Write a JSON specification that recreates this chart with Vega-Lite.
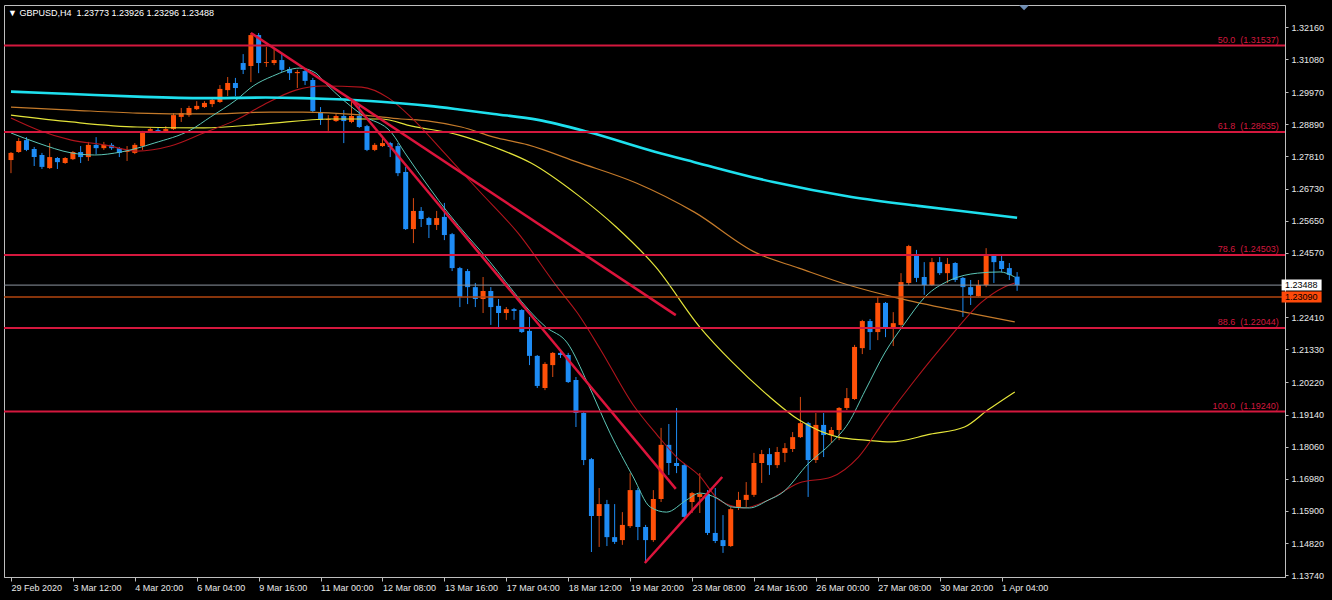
{
"$schema": "https://vega.github.io/schema/vega-lite/v6.json",
"width": 1281, "height": 572,
"autosize": {"type": "none"},
"padding": {"left": 4, "top": 5, "right": 47, "bottom": 23},
"background": "#000000",
"title": {"text": "▼ GBPUSD,H4\u00a0 1.23773 1.23926 1.23296 1.23488", "anchor": "start", "frame": "group", "orient": "top", "baseline": "top", "offset": 0, "dx": 4, "dy": 13, "font": "Liberation Sans", "fontSize": 9, "fontWeight": "normal", "color": "#FFFFFF"},
"config": {"view": {"stroke": "#BEBEBE", "strokeWidth": 1, "fill": "#000000"}, "font": "Liberation Sans"},
"resolve": {"axis": {"x": "independent", "y": "independent"}},
"datasets": {
"candles": [
{"i":0,"o":1.2769,"h":1.2796,"l":1.2725,"c":1.2793},
{"i":1,"o":1.2796,"h":1.2843,"l":1.2793,"c":1.2833},
{"i":2,"o":1.2836,"h":1.2846,"l":1.2799,"c":1.2803},
{"i":3,"o":1.2806,"h":1.2813,"l":1.2749,"c":1.2779},
{"i":4,"o":1.2786,"h":1.2793,"l":1.2739,"c":1.2746},
{"i":5,"o":1.2742,"h":1.2826,"l":1.2739,"c":1.2779},
{"i":6,"o":1.2776,"h":1.2779,"l":1.2739,"c":1.2762},
{"i":7,"o":1.2759,"h":1.2779,"l":1.2756,"c":1.2776},
{"i":8,"o":1.2772,"h":1.2799,"l":1.2769,"c":1.2796},
{"i":9,"o":1.2796,"h":1.2816,"l":1.2759,"c":1.2779},
{"i":10,"o":1.2779,"h":1.2830,"l":1.2766,"c":1.2820},
{"i":11,"o":1.2820,"h":1.2846,"l":1.2789,"c":1.2809},
{"i":12,"o":1.2809,"h":1.2830,"l":1.2803,"c":1.2820},
{"i":13,"o":1.2820,"h":1.2826,"l":1.2803,"c":1.2809},
{"i":14,"o":1.2809,"h":1.2813,"l":1.2779,"c":1.2793},
{"i":15,"o":1.2796,"h":1.2816,"l":1.2766,"c":1.2799},
{"i":16,"o":1.2793,"h":1.2826,"l":1.2789,"c":1.2820},
{"i":17,"o":1.2816,"h":1.2867,"l":1.2803,"c":1.2863},
{"i":18,"o":1.2867,"h":1.2877,"l":1.2863,"c":1.2873},
{"i":19,"o":1.2870,"h":1.2877,"l":1.2860,"c":1.2867},
{"i":20,"o":1.2867,"h":1.2883,"l":1.2863,"c":1.2873},
{"i":21,"o":1.2873,"h":1.2927,"l":1.2870,"c":1.2920},
{"i":22,"o":1.2914,"h":1.2944,"l":1.2897,"c":1.2927},
{"i":23,"o":1.2920,"h":1.2951,"l":1.2914,"c":1.2944},
{"i":24,"o":1.2940,"h":1.2967,"l":1.2937,"c":1.2951},
{"i":25,"o":1.2947,"h":1.2967,"l":1.2944,"c":1.2961},
{"i":26,"o":1.2957,"h":1.2977,"l":1.2947,"c":1.2971},
{"i":27,"o":1.2964,"h":1.3021,"l":1.2961,"c":1.3008},
{"i":28,"o":1.3004,"h":1.3048,"l":1.2984,"c":1.3028},
{"i":29,"o":1.3028,"h":1.3045,"l":1.2984,"c":1.3011},
{"i":30,"o":1.3095,"h":1.3125,"l":1.3058,"c":1.3072},
{"i":31,"o":1.3085,"h":1.3196,"l":1.3031,"c":1.3189},
{"i":32,"o":1.3189,"h":1.3196,"l":1.3061,"c":1.3095},
{"i":33,"o":1.3095,"h":1.3149,"l":1.3082,"c":1.3098},
{"i":34,"o":1.3095,"h":1.3145,"l":1.3088,"c":1.3105},
{"i":35,"o":1.3105,"h":1.3129,"l":1.3065,"c":1.3072},
{"i":36,"o":1.3075,"h":1.3082,"l":1.3038,"c":1.3061},
{"i":37,"o":1.3061,"h":1.3072,"l":1.3011,"c":1.3065},
{"i":38,"o":1.3068,"h":1.3078,"l":1.3021,"c":1.3035},
{"i":39,"o":1.3038,"h":1.3045,"l":1.2927,"c":1.2934},
{"i":40,"o":1.2930,"h":1.2947,"l":1.2887,"c":1.2904},
{"i":41,"o":1.2904,"h":1.2920,"l":1.2867,"c":1.2907},
{"i":42,"o":1.2900,"h":1.2924,"l":1.2897,"c":1.2917},
{"i":43,"o":1.2917,"h":1.2937,"l":1.2826,"c":1.2900},
{"i":44,"o":1.2897,"h":1.2971,"l":1.2893,"c":1.2917},
{"i":45,"o":1.2917,"h":1.2951,"l":1.2877,"c":1.2880},
{"i":46,"o":1.2883,"h":1.2887,"l":1.2799,"c":1.2803},
{"i":47,"o":1.2803,"h":1.2826,"l":1.2799,"c":1.2820},
{"i":48,"o":1.2816,"h":1.2846,"l":1.2813,"c":1.2826},
{"i":49,"o":1.2826,"h":1.2830,"l":1.2779,"c":1.2813},
{"i":50,"o":1.2816,"h":1.2826,"l":1.2715,"c":1.2725},
{"i":51,"o":1.2729,"h":1.2746,"l":1.2534,"c":1.2537},
{"i":52,"o":1.2537,"h":1.2641,"l":1.2490,"c":1.2598},
{"i":53,"o":1.2598,"h":1.2611,"l":1.2544,"c":1.2571},
{"i":54,"o":1.2574,"h":1.2578,"l":1.2507,"c":1.2551},
{"i":55,"o":1.2551,"h":1.2598,"l":1.2534,"c":1.2574},
{"i":56,"o":1.2578,"h":1.2625,"l":1.2500,"c":1.2517},
{"i":57,"o":1.2520,"h":1.2524,"l":1.2396,"c":1.2406},
{"i":58,"o":1.2406,"h":1.2410,"l":1.2275,"c":1.2309},
{"i":59,"o":1.2396,"h":1.2403,"l":1.2285,"c":1.2342},
{"i":60,"o":1.2342,"h":1.2356,"l":1.2275,"c":1.2302},
{"i":61,"o":1.2302,"h":1.2376,"l":1.2255,"c":1.2329},
{"i":62,"o":1.2329,"h":1.2342,"l":1.2215,"c":1.2275},
{"i":63,"o":1.2279,"h":1.2302,"l":1.2205,"c":1.2255},
{"i":64,"o":1.2255,"h":1.2275,"l":1.2232,"c":1.2268},
{"i":65,"o":1.2268,"h":1.2272,"l":1.2232,"c":1.2262},
{"i":66,"o":1.2265,"h":1.2268,"l":1.2188,"c":1.2191},
{"i":67,"o":1.2195,"h":1.2242,"l":1.2080,"c":1.2111},
{"i":68,"o":1.2111,"h":1.2114,"l":1.2003,"c":1.2010},
{"i":69,"o":1.2003,"h":1.2090,"l":1.1996,"c":1.2084},
{"i":70,"o":1.2080,"h":1.2124,"l":1.2040,"c":1.2121},
{"i":71,"o":1.2121,"h":1.2134,"l":1.2104,"c":1.2114},
{"i":72,"o":1.2114,"h":1.2121,"l":1.2020,"c":1.2023},
{"i":73,"o":1.2030,"h":1.2040,"l":1.1872,"c":1.1919},
{"i":74,"o":1.1919,"h":1.1922,"l":1.1744,"c":1.1761},
{"i":75,"o":1.1764,"h":1.1768,"l":1.1452,"c":1.1573},
{"i":76,"o":1.1573,"h":1.1667,"l":1.1469,"c":1.1613},
{"i":77,"o":1.1613,"h":1.1627,"l":1.1472,"c":1.1502},
{"i":78,"o":1.1502,"h":1.1613,"l":1.1479,"c":1.1486},
{"i":79,"o":1.1492,"h":1.1586,"l":1.1476,"c":1.1543},
{"i":80,"o":1.1539,"h":1.1717,"l":1.1533,"c":1.1660},
{"i":81,"o":1.1660,"h":1.1667,"l":1.1492,"c":1.1536},
{"i":82,"o":1.1536,"h":1.1543,"l":1.1415,"c":1.1492},
{"i":83,"o":1.1492,"h":1.1660,"l":1.1486,"c":1.1630},
{"i":84,"o":1.1630,"h":1.1869,"l":1.1620,"c":1.1812},
{"i":85,"o":1.1812,"h":1.1882,"l":1.1711,"c":1.1751},
{"i":86,"o":1.1751,"h":1.1936,"l":1.1717,"c":1.1741},
{"i":87,"o":1.1744,"h":1.1751,"l":1.1566,"c":1.1570},
{"i":88,"o":1.1620,"h":1.1654,"l":1.1583,"c":1.1650},
{"i":89,"o":1.1637,"h":1.1717,"l":1.1583,"c":1.1647},
{"i":90,"o":1.1647,"h":1.1660,"l":1.1509,"c":1.1516},
{"i":91,"o":1.1516,"h":1.1667,"l":1.1482,"c":1.1489},
{"i":92,"o":1.1492,"h":1.1576,"l":1.1449,"c":1.1472},
{"i":93,"o":1.1472,"h":1.1603,"l":1.1469,"c":1.1596},
{"i":94,"o":1.1600,"h":1.1654,"l":1.1593,"c":1.1627},
{"i":95,"o":1.1627,"h":1.1687,"l":1.1603,"c":1.1644},
{"i":96,"o":1.1644,"h":1.1785,"l":1.1637,"c":1.1751},
{"i":97,"o":1.1751,"h":1.1795,"l":1.1684,"c":1.1781},
{"i":98,"o":1.1781,"h":1.1801,"l":1.1711,"c":1.1744},
{"i":99,"o":1.1744,"h":1.1805,"l":1.1734,"c":1.1788},
{"i":100,"o":1.1785,"h":1.1818,"l":1.1754,"c":1.1801},
{"i":101,"o":1.1798,"h":1.1855,"l":1.1788,"c":1.1838},
{"i":102,"o":1.1838,"h":1.1973,"l":1.1835,"c":1.1885},
{"i":103,"o":1.1885,"h":1.1889,"l":1.1637,"c":1.1761},
{"i":104,"o":1.1761,"h":1.1919,"l":1.1751,"c":1.1879},
{"i":105,"o":1.1879,"h":1.1919,"l":1.1771,"c":1.1845},
{"i":106,"o":1.1845,"h":1.1872,"l":1.1818,"c":1.1862},
{"i":107,"o":1.1862,"h":1.1939,"l":1.1828,"c":1.1936},
{"i":108,"o":1.1936,"h":1.2003,"l":1.1929,"c":1.1969},
{"i":109,"o":1.1966,"h":1.2148,"l":1.1963,"c":1.2141},
{"i":110,"o":1.2137,"h":1.2232,"l":1.2117,"c":1.2228},
{"i":111,"o":1.2228,"h":1.2235,"l":1.2131,"c":1.2191},
{"i":112,"o":1.2191,"h":1.2309,"l":1.2164,"c":1.2289},
{"i":113,"o":1.2289,"h":1.2292,"l":1.2174,"c":1.2208},
{"i":114,"o":1.2208,"h":1.2258,"l":1.2144,"c":1.2221},
{"i":115,"o":1.2215,"h":1.2389,"l":1.2208,"c":1.2359},
{"i":116,"o":1.2356,"h":1.2484,"l":1.2349,"c":1.2480},
{"i":117,"o":1.2450,"h":1.2467,"l":1.2359,"c":1.2373},
{"i":118,"o":1.2376,"h":1.2426,"l":1.2316,"c":1.2349},
{"i":119,"o":1.2349,"h":1.2440,"l":1.2346,"c":1.2426},
{"i":120,"o":1.2426,"h":1.2443,"l":1.2383,"c":1.2389},
{"i":121,"o":1.2389,"h":1.2440,"l":1.2356,"c":1.2420},
{"i":122,"o":1.2423,"h":1.2426,"l":1.2359,"c":1.2366},
{"i":123,"o":1.2373,"h":1.2376,"l":1.2242,"c":1.2342},
{"i":124,"o":1.2342,"h":1.2366,"l":1.2282,"c":1.2316},
{"i":125,"o":1.2312,"h":1.2366,"l":1.2309,"c":1.2349},
{"i":126,"o":1.2349,"h":1.2473,"l":1.2342,"c":1.2450},
{"i":127,"o":1.2450,"h":1.2453,"l":1.2356,"c":1.2426},
{"i":128,"o":1.2430,"h":1.2450,"l":1.2393,"c":1.2403},
{"i":129,"o":1.2406,"h":1.2423,"l":1.2366,"c":1.2383},
{"i":130,"o":1.23773,"h":1.23926,"l":1.23296,"c":1.23488}
],
"ma": [
{"m":"cyan","i":0,"p":1.2999},{"m":"cyan","i":7.8,"p":1.2991},{"m":"cyan","i":16.3,"p":1.2982},{"m":"cyan","i":24.9,"p":1.2977},{"m":"cyan","i":32.9,"p":1.2979},{"m":"cyan","i":37.7,"p":1.2977},{"m":"cyan","i":41.2,"p":1.2974},{"m":"cyan","i":47.8,"p":1.2965},{"m":"cyan","i":54,"p":1.2951},{"m":"cyan","i":57.9,"p":1.2939},{"m":"cyan","i":62.4,"p":1.2924},{"m":"cyan","i":68.1,"p":1.2904},{"m":"cyan","i":74.6,"p":1.2863},{"m":"cyan","i":83.3,"p":1.2796},{"m":"cyan","i":88.3,"p":1.2762},{"m":"cyan","i":98.5,"p":1.2695},{"m":"cyan","i":108.6,"p":1.2645},{"m":"cyan","i":117.2,"p":1.2615},{"m":"cyan","i":124.9,"p":1.2591},{"m":"cyan","i":130,"p":1.2575},
{"m":"orange","i":0,"p":1.2947},{"m":"orange","i":7.8,"p":1.2937},{"m":"orange","i":16.3,"p":1.2927},{"m":"orange","i":24.9,"p":1.2924},{"m":"orange","i":33.5,"p":1.2930},{"m":"orange","i":37.7,"p":1.2930},{"m":"orange","i":45.4,"p":1.2920},{"m":"orange","i":50.4,"p":1.2907},{"m":"orange","i":54,"p":1.2900},{"m":"orange","i":58.2,"p":1.2880},{"m":"orange","i":62.4,"p":1.2846},{"m":"orange","i":66.8,"p":1.2820},{"m":"orange","i":73.2,"p":1.2762},{"m":"orange","i":80.8,"p":1.2692},{"m":"orange","i":88.3,"p":1.2594},{"m":"orange","i":96.3,"p":1.2457},{"m":"orange","i":101.8,"p":1.2406},{"m":"orange","i":108.2,"p":1.2349},{"m":"orange","i":114.6,"p":1.2305},{"m":"orange","i":123.2,"p":1.2258},{"m":"orange","i":129.7,"p":1.2225},
{"m":"yellow","i":0,"p":1.2920},{"m":"yellow","i":7.8,"p":1.2897},{"m":"yellow","i":16.3,"p":1.2880},{"m":"yellow","i":24.9,"p":1.2877},{"m":"yellow","i":32.6,"p":1.2890},{"m":"yellow","i":41.2,"p":1.2907},{"m":"yellow","i":47.8,"p":1.2907},{"m":"yellow","i":51.8,"p":1.2883},{"m":"yellow","i":57.9,"p":1.2853},{"m":"yellow","i":62.4,"p":1.2813},{"m":"yellow","i":67.2,"p":1.2759},{"m":"yellow","i":73.2,"p":1.2652},{"m":"yellow","i":78.2,"p":1.2544},{"m":"yellow","i":83.3,"p":1.2410},{"m":"yellow","i":89,"p":1.2208},{"m":"yellow","i":93.2,"p":1.2090},{"m":"yellow","i":97.9,"p":1.1976},{"m":"yellow","i":101.8,"p":1.1896},{"m":"yellow","i":106.9,"p":1.1838},{"m":"yellow","i":110.4,"p":1.1828},{"m":"yellow","i":113.7,"p":1.1822},{"m":"yellow","i":118.8,"p":1.1848},{"m":"yellow","i":123.2,"p":1.1872},{"m":"yellow","i":126.2,"p":1.1929},{"m":"yellow","i":129.7,"p":1.1990},
{"m":"red","i":0,"p":1.2910},{"m":"red","i":3.5,"p":1.2870},{"m":"red","i":7.8,"p":1.2836},{"m":"red","i":12.1,"p":1.2820},{"m":"red","i":16.3,"p":1.2799},{"m":"red","i":20.6,"p":1.2816},{"m":"red","i":24.9,"p":1.2860},{"m":"red","i":29.1,"p":1.2904},{"m":"red","i":32.6,"p":1.2954},{"m":"red","i":36.8,"p":1.3004},{"m":"red","i":40.3,"p":1.3018},{"m":"red","i":45.3,"p":1.3014},{"m":"red","i":48.8,"p":1.2977},{"m":"red","i":51.8,"p":1.2910},{"m":"red","i":56,"p":1.2793},{"m":"red","i":60.5,"p":1.2665},{"m":"red","i":65.5,"p":1.2524},{"m":"red","i":70.6,"p":1.2342},{"m":"red","i":73.2,"p":1.2255},{"m":"red","i":76.2,"p":1.2131},{"m":"red","i":80.4,"p":1.1946},{"m":"red","i":83.5,"p":1.1845},{"m":"red","i":86,"p":1.1771},{"m":"red","i":89,"p":1.1707},{"m":"red","i":91.5,"p":1.1627},{"m":"red","i":94.7,"p":1.1600},{"m":"red","i":97.9,"p":1.1627},{"m":"red","i":101.8,"p":1.1684},{"m":"red","i":106,"p":1.1704},{"m":"red","i":109.5,"p":1.1771},{"m":"red","i":112.9,"p":1.1896},{"m":"red","i":116.8,"p":1.2030},{"m":"red","i":121,"p":1.2164},{"m":"red","i":125.3,"p":1.2289},{"m":"red","i":128.3,"p":1.2342},{"m":"red","i":129.7,"p":1.2356},
{"m":"teal","i":0,"p":1.2860},{"m":"teal","i":3.5,"p":1.2826},{"m":"teal","i":7.8,"p":1.2793},{"m":"teal","i":10.8,"p":1.2786},{"m":"teal","i":14.2,"p":1.2796},{"m":"teal","i":18.5,"p":1.2826},{"m":"teal","i":23.2,"p":1.2870},{"m":"teal","i":25.8,"p":1.2914},{"m":"teal","i":29.1,"p":1.2971},{"m":"teal","i":31.3,"p":1.3018},{"m":"teal","i":33.8,"p":1.3051},{"m":"teal","i":37.3,"p":1.3078},{"m":"teal","i":39.4,"p":1.3061},{"m":"teal","i":40.6,"p":1.3028},{"m":"teal","i":45.4,"p":1.2920},{"m":"teal","i":49.2,"p":1.2860},{"m":"teal","i":50.9,"p":1.2793},{"m":"teal","i":54,"p":1.2678},{"m":"teal","i":56.5,"p":1.2591},{"m":"teal","i":59.1,"p":1.2510},{"m":"teal","i":60.8,"p":1.2460},{"m":"teal","i":69.1,"p":1.2208},{"m":"teal","i":71.9,"p":1.2154},{"m":"teal","i":74.5,"p":1.2020},{"m":"teal","i":77.4,"p":1.1852},{"m":"teal","i":80.4,"p":1.1704},{"m":"teal","i":82.6,"p":1.1603},{"m":"teal","i":84.7,"p":1.1586},{"m":"teal","i":87.3,"p":1.1627},{"m":"teal","i":89,"p":1.1650},{"m":"teal","i":91.2,"p":1.1633},{"m":"teal","i":93.2,"p":1.1603},{"m":"teal","i":95.4,"p":1.1600},{"m":"teal","i":97.9,"p":1.1627},{"m":"teal","i":99.6,"p":1.1650},{"m":"teal","i":103.1,"p":1.1751},{"m":"teal","i":106,"p":1.1818},{"m":"teal","i":108.2,"p":1.1885},{"m":"teal","i":110.4,"p":1.1996},{"m":"teal","i":112.9,"p":1.2121},{"m":"teal","i":115.5,"p":1.2221},{"m":"teal","i":118.1,"p":1.2309},{"m":"teal","i":121.4,"p":1.2366},{"m":"teal","i":124.9,"p":1.2389},{"m":"teal","i":127.8,"p":1.2393},{"m":"teal","i":129.7,"p":1.2376}
],
"fib": [
{"price":1.31537,"label":"50.0\u00a0\u00a0(1.31537)"},
{"price":1.28635,"label":"61.8\u00a0\u00a0(1.28635)"},
{"price":1.24503,"label":"78.6\u00a0\u00a0(1.24503)"},
{"price":1.22044,"label":"88.6\u00a0\u00a0(1.22044)"},
{"price":1.19240,"label":"100.0\u00a0\u00a0(1.19240)"}
],
"trend": [
{"t":"a","i":31,"p":1.3196},{"t":"a","i":85.9,"p":1.2248},
{"t":"b","i":44,"p":1.2971},{"t":"b","i":85.9,"p":1.1664},
{"t":"c","i":81.9,"p":1.1415},{"t":"c","i":91.9,"p":1.1704}
],
"bid": [{"price":1.23488,"label":"1.23488"}],
"order": [{"price":1.2309,"label":"1.23090"}]
},
"layer": [
{"data":{"name":"candles"},"mark":{"type":"rule","strokeWidth":1},
 "encoding":{
  "x":{"field":"i","type":"quantitative","scale":{"domain":[-0.256,163.97],"nice":false,"zero":false},
   "axis":{"values":[0,8,16,24,32,40,48,56,64,72,80,88,96,104,112,120,128],
    "labelExpr":"['29 Feb 2020','3 Mar 12:00','4 Mar 20:00','6 Mar 04:00','9 Mar 16:00','11 Mar 00:00','12 Mar 08:00','13 Mar 16:00','17 Mar 04:00','18 Mar 12:00','19 Mar 20:00','23 Mar 08:00','24 Mar 16:00','26 Mar 00:00','27 Mar 08:00','30 Mar 20:00','1 Apr 04:00'][round(datum.value/8)]",
    "title":null,"grid":false,"domainColor":"#BEBEBE","tickColor":"#BEBEBE","tickSize":4,"labelColor":"#E8E8E8","labelFont":"Liberation Sans","labelFontSize":9,"labelAlign":"left","labelBaseline":"top","labelPadding":2,"labelOverlap":false,"labelFlush":false,"labelBound":false}},
  "y":{"field":"l","type":"quantitative","scale":{"domain":[1.1368,1.329],"nice":false,"zero":false},
   "axis":{"orient":"right","values":[1.3216,1.3108,1.2997,1.2889,1.2781,1.2673,1.2565,1.2457,1.2241,1.2133,1.2022,1.1914,1.1806,1.1698,1.159,1.1482,1.1374],
    "format":".5f","title":null,"grid":false,"domainColor":"#BEBEBE","tickColor":"#BEBEBE","tickSize":3,"labelColor":"#E8E8E8","labelFont":"Liberation Sans","labelFontSize":9,"labelAlign":"left","labelBaseline":"middle","labelPadding":3,"labelOverlap":false,"labelFlush":false,"labelBound":false}},
  "y2":{"field":"h"},
  "color":{"condition":{"test":"datum.c >= datum.o","value":"#D84A12"},"value":"#1E8CF5"}}},
{"data":{"name":"candles"},"mark":{"type":"bar","size":5},
 "encoding":{
  "x":{"field":"i","type":"quantitative","scale":{"domain":[-0.256,163.97],"nice":false,"zero":false},"axis":null},
  "y":{"field":"o","type":"quantitative","scale":{"domain":[1.1368,1.329],"nice":false,"zero":false},"axis":null},
  "y2":{"field":"c"},
  "color":{"condition":{"test":"datum.c >= datum.o","value":"#FF5008"},"value":"#1E8CF5"}}},
{"data":{"name":"ma"},"transform":[{"filter":"datum.m == 'orange'"}],"mark":{"type":"line","color":"#C47A2A","strokeWidth":1.2,"interpolate":"monotone"},
 "encoding":{"x":{"field":"i","type":"quantitative","scale":{"domain":[-0.256,163.97],"nice":false,"zero":false},"axis":null},
  "y":{"field":"p","type":"quantitative","scale":{"domain":[1.1368,1.329],"nice":false,"zero":false},"axis":null}}},
{"data":{"name":"ma"},"transform":[{"filter":"datum.m == 'yellow'"}],"mark":{"type":"line","color":"#E4E43A","strokeWidth":1.2,"interpolate":"monotone"},
 "encoding":{"x":{"field":"i","type":"quantitative","scale":{"domain":[-0.256,163.97],"nice":false,"zero":false},"axis":null},
  "y":{"field":"p","type":"quantitative","scale":{"domain":[1.1368,1.329],"nice":false,"zero":false},"axis":null}}},
{"data":{"name":"ma"},"transform":[{"filter":"datum.m == 'red'"}],"mark":{"type":"line","color":"#B0141C","strokeWidth":1.1,"interpolate":"monotone"},
 "encoding":{"x":{"field":"i","type":"quantitative","scale":{"domain":[-0.256,163.97],"nice":false,"zero":false},"axis":null},
  "y":{"field":"p","type":"quantitative","scale":{"domain":[1.1368,1.329],"nice":false,"zero":false},"axis":null}}},
{"data":{"name":"ma"},"transform":[{"filter":"datum.m == 'teal'"}],"mark":{"type":"line","color":"#5CC6B6","strokeWidth":1,"interpolate":"monotone"},
 "encoding":{"x":{"field":"i","type":"quantitative","scale":{"domain":[-0.256,163.97],"nice":false,"zero":false},"axis":null},
  "y":{"field":"p","type":"quantitative","scale":{"domain":[1.1368,1.329],"nice":false,"zero":false},"axis":null}}},
{"data":{"name":"ma"},"transform":[{"filter":"datum.m == 'cyan'"}],"mark":{"type":"line","color":"#1EE0EE","strokeWidth":2.6,"interpolate":"monotone"},
 "encoding":{"x":{"field":"i","type":"quantitative","scale":{"domain":[-0.256,163.97],"nice":false,"zero":false},"axis":null},
  "y":{"field":"p","type":"quantitative","scale":{"domain":[1.1368,1.329],"nice":false,"zero":false},"axis":null}}},
{"data":{"name":"fib"},"mark":{"type":"rule","color":"#D4183E","strokeWidth":2},
 "encoding":{"y":{"field":"price","type":"quantitative","scale":{"domain":[1.1368,1.329],"nice":false,"zero":false},"axis":null}}},
{"data":{"name":"bid"},"mark":{"type":"rule","color":"#8E96A0","strokeWidth":1},
 "encoding":{"y":{"field":"price","type":"quantitative","scale":{"domain":[1.1368,1.329],"nice":false,"zero":false},"axis":null}}},
{"data":{"name":"order"},"mark":{"type":"rule","color":"#B4460F","strokeWidth":1.5},
 "encoding":{"y":{"field":"price","type":"quantitative","scale":{"domain":[1.1368,1.329],"nice":false,"zero":false},"axis":null}}},
{"data":{"name":"trend"},"mark":{"type":"line","color":"#DC143C","strokeWidth":2.5},
 "encoding":{"x":{"field":"i","type":"quantitative","scale":{"domain":[-0.256,163.97],"nice":false,"zero":false},"axis":null},
  "y":{"field":"p","type":"quantitative","scale":{"domain":[1.1368,1.329],"nice":false,"zero":false},"axis":null},
  "detail":{"field":"t"}}},
{"data":{"name":"fib"},"mark":{"type":"text","align":"right","baseline":"alphabetic","dy":-3,"fontSize":9,"font":"Liberation Sans","color":"#D4183E"},
 "encoding":{"x":{"datum":163.8,"type":"quantitative","scale":{"domain":[-0.256,163.97],"nice":false,"zero":false},"axis":null},
  "y":{"field":"price","type":"quantitative","scale":{"domain":[1.1368,1.329],"nice":false,"zero":false},"axis":null},
  "text":{"field":"label"}}},
{"data":{"name":"bid"},"mark":{"type":"tick","orient":"vertical","thickness":40,"size":11,"color":"#FFFFFF","opacity":1},
 "encoding":{"x":{"datum":166.76,"type":"quantitative","scale":{"domain":[-0.256,163.97],"nice":false,"zero":false},"axis":null},
  "y":{"field":"price","type":"quantitative","scale":{"domain":[1.1368,1.329],"nice":false,"zero":false},"axis":null}}},
{"data":{"name":"order"},"mark":{"type":"tick","orient":"vertical","thickness":40,"size":11,"color":"#FF4A0A","opacity":1},
 "encoding":{"x":{"datum":166.76,"type":"quantitative","scale":{"domain":[-0.256,163.97],"nice":false,"zero":false},"axis":null},
  "y":{"field":"price","type":"quantitative","scale":{"domain":[1.1368,1.329],"nice":false,"zero":false},"axis":null}}},
{"data":{"name":"bid"},"mark":{"type":"text","align":"left","baseline":"middle","fontSize":9,"font":"Liberation Sans","color":"#000000"},
 "encoding":{"x":{"datum":164.6,"type":"quantitative","scale":{"domain":[-0.256,163.97],"nice":false,"zero":false},"axis":null},
  "y":{"field":"price","type":"quantitative","scale":{"domain":[1.1368,1.329],"nice":false,"zero":false},"axis":null},
  "text":{"field":"label"}}},
{"data":{"name":"order"},"mark":{"type":"text","align":"left","baseline":"middle","fontSize":9,"font":"Liberation Sans","color":"#000000"},
 "encoding":{"x":{"datum":164.6,"type":"quantitative","scale":{"domain":[-0.256,163.97],"nice":false,"zero":false},"axis":null},
  "y":{"field":"price","type":"quantitative","scale":{"domain":[1.1368,1.329],"nice":false,"zero":false},"axis":null},
  "text":{"field":"label"}}},
{"data":{"values":[{"k":"shift"}]},"mark":{"type":"point","shape":"M-1,0L1,0L0,1Z","filled":true,"size":100,"color":"#6C8CB4","opacity":1},
 "encoding":{"x":{"datum":130.9,"type":"quantitative","scale":{"domain":[-0.256,163.97],"nice":false,"zero":false},"axis":null},
  "y":{"datum":1.3289,"type":"quantitative","scale":{"domain":[1.1368,1.329],"nice":false,"zero":false},"axis":null}}}
]
}
